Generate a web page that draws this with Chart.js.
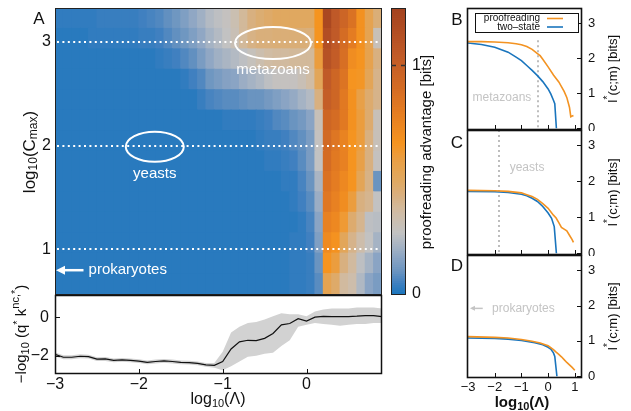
<!DOCTYPE html>
<html><head><meta charset="utf-8">
<script src="https://cdn.jsdelivr.net/npm/chart.js@4.4.0/dist/chart.umd.min.js"></script>
<style>
html,body{margin:0;padding:0;background:#fff;}
#wrap{position:relative;width:631px;height:411px;overflow:hidden;background:#fff;}
canvas{position:absolute;}
</style></head><body>
<div id="wrap">
<canvas id="heat" width="392" height="300" style="left:0;top:0"></canvas>
<canvas id="cbar" width="56" height="300" style="left:384px;top:0"></canvas>
<canvas id="qline" width="392" height="141" style="left:0;top:270px"></canvas>
<canvas id="pB" width="191" height="131" style="left:440px;top:0"></canvas>
<canvas id="pC" width="191" height="126" style="left:440px;top:130px"></canvas>
<canvas id="pD" width="191" height="156" style="left:440px;top:255px"></canvas>
</div>
<script>
// ---------------- DATA ----------------
// heatmap columns: centres of log10(Lambda) bins
const lambdaCols = [-2.95,-2.85,-2.75,-2.65,-2.55,-2.45,-2.35,-2.25,-2.15,-2.05,
  -1.95,-1.85,-1.75,-1.65,-1.55,-1.45,-1.35,-1.25,-1.15,-1.05,
  -0.95,-0.85,-0.75,-0.65,-0.55,-0.45,-0.35,-0.25,-0.15,-0.05,
  0.05,0.15,0.25,0.35,0.45,0.55,0.65,0.75,0.85];
// heatmap rows: centres of log10(Cmax) bins (bottom to top)
const cmaxRows = [0.669,0.866,1.063,1.260,1.457,1.654,1.851,2.048,2.245,2.442,2.639,2.836,3.033,3.230];
// proofreading advantage [bits], one row per cmaxRows entry
const heatValues = [
 [0.02,0.02,0.02,0.02,0.02,0.02,0.02,0.02,0.02,0.02, 0.02,0.02,0.02,0.02,0.02,0.02,0.02,0.02,0.02,0.02, 0.02,0.02,0.02,0.02,0.02,0.02,0.02,0.02,0.03,0.03, 0.04,0.08,0.55,0.48,0.37,0.34,0.23,0.16,0.13],
 [0.02,0.02,0.02,0.02,0.02,0.02,0.02,0.02,0.02,0.02, 0.02,0.02,0.02,0.02,0.02,0.02,0.02,0.02,0.02,0.02, 0.02,0.02,0.02,0.02,0.02,0.02,0.02,0.02,0.03,0.03, 0.04,0.10,0.66,0.60,0.43,0.37,0.26,0.21,0.16],
 [0.02,0.02,0.02,0.02,0.02,0.02,0.02,0.02,0.02,0.02, 0.02,0.02,0.02,0.02,0.02,0.02,0.02,0.02,0.02,0.02, 0.02,0.02,0.02,0.02,0.02,0.02,0.02,0.02,0.03,0.03, 0.05,0.14,0.72,0.67,0.52,0.41,0.34,0.27,0.21],
 [0.02,0.02,0.02,0.02,0.02,0.02,0.02,0.02,0.02,0.02, 0.02,0.02,0.02,0.02,0.02,0.02,0.02,0.02,0.02,0.02, 0.02,0.02,0.02,0.02,0.02,0.02,0.02,0.02,0.02,0.03, 0.06,0.16,0.77,0.73,0.62,0.47,0.40,0.26,0.25],
 [0.02,0.02,0.02,0.02,0.02,0.02,0.02,0.02,0.02,0.02, 0.02,0.02,0.02,0.02,0.02,0.02,0.02,0.02,0.02,0.02, 0.02,0.02,0.02,0.02,0.02,0.02,0.02,0.02,0.03,0.05, 0.08,0.19,0.83,0.77,0.70,0.60,0.43,0.40,0.27],
 [0.02,0.02,0.02,0.02,0.02,0.02,0.02,0.02,0.02,0.02, 0.02,0.02,0.02,0.02,0.02,0.02,0.02,0.02,0.02,0.02, 0.02,0.02,0.02,0.02,0.02,0.02,0.02,0.03,0.03,0.06, 0.10,0.22,0.86,0.80,0.73,0.66,0.53,0.42,0.10],
 [0.02,0.02,0.02,0.02,0.02,0.02,0.02,0.02,0.02,0.02, 0.02,0.02,0.02,0.02,0.02,0.02,0.02,0.02,0.02,0.02, 0.02,0.02,0.02,0.02,0.02,0.03,0.03,0.04,0.05,0.08, 0.13,0.27,0.90,0.82,0.77,0.66,0.58,0.43,0.28],
 [0.02,0.02,0.02,0.02,0.02,0.02,0.02,0.02,0.02,0.02, 0.02,0.02,0.02,0.02,0.02,0.02,0.02,0.02,0.02,0.02, 0.02,0.02,0.02,0.02,0.03,0.04,0.04,0.05,0.07,0.09, 0.13,0.28,0.92,0.84,0.76,0.66,0.60,0.43,0.30],
 [0.02,0.02,0.02,0.02,0.02,0.02,0.02,0.02,0.02,0.02, 0.02,0.02,0.02,0.02,0.02,0.02,0.02,0.02,0.02,0.02, 0.03,0.03,0.03,0.03,0.04,0.05,0.07,0.08,0.10,0.12, 0.16,0.30,0.95,0.90,0.82,0.68,0.60,0.47,0.30],
 [0.02,0.02,0.02,0.02,0.02,0.02,0.02,0.02,0.02,0.02, 0.02,0.02,0.02,0.02,0.02,0.02,0.02,0.04,0.06,0.07, 0.08,0.08,0.09,0.10,0.10,0.12,0.14,0.16,0.18,0.21, 0.24,0.43,1.02,0.95,0.82,0.68,0.58,0.47,0.41],
 [0.02,0.02,0.02,0.02,0.02,0.02,0.02,0.02,0.02,0.02, 0.02,0.02,0.02,0.02,0.02,0.03,0.05,0.07,0.11,0.13, 0.15,0.16,0.19,0.21,0.23,0.26,0.28,0.28,0.28,0.31, 0.36,0.52,1.05,0.95,0.85,0.66,0.65,0.53,0.41],
 [0.02,0.02,0.02,0.02,0.02,0.02,0.02,0.02,0.02,0.02, 0.02,0.02,0.03,0.04,0.05,0.07,0.09,0.13,0.17,0.20, 0.22,0.24,0.26,0.29,0.33,0.36,0.37,0.37,0.38,0.38, 0.38,0.60,1.12,1.03,0.88,0.70,0.66,0.56,0.43],
 [0.02,0.02,0.02,0.02,0.03,0.03,0.03,0.03,0.03,0.03, 0.04,0.04,0.05,0.07,0.09,0.11,0.14,0.17,0.21,0.24, 0.27,0.31,0.38,0.42,0.44,0.44,0.45,0.45,0.45,0.45, 0.44,0.66,1.15,1.05,0.90,0.80,0.68,0.55,0.30],
 [0.03,0.03,0.03,0.03,0.03,0.04,0.04,0.04,0.04,0.04, 0.05,0.06,0.07,0.09,0.11,0.14,0.17,0.20,0.24,0.26, 0.28,0.32,0.38,0.43,0.46,0.48,0.50,0.50,0.50,0.50, 0.50,0.66,1.20,1.06,0.96,0.86,0.68,0.55,0.45]
];
// bottom panel: -log10(q* k^nc,*) vs log10(Lambda)
const lambdaQ = [-3.0,-2.9,-2.8,-2.7,-2.6,-2.5,-2.4,-2.3,-2.2,-2.1,-2.0,-1.9,-1.8,-1.7,-1.6,-1.5,-1.4,-1.3,-1.2,-1.1,
  -1.0,-0.9,-0.8,-0.7,-0.6,-0.5,-0.4,-0.3,-0.2,-0.1,0.0,0.1,0.2,0.3,0.4,0.5,0.6,0.7,0.8,0.9];
const qMean  = [-1.93,-2.08,-2.08,-2.03,-2.05,-2.18,-2.17,-2.24,-2.22,-2.24,-2.28,-2.35,-2.30,-2.27,-2.30,-2.35,-2.36,-2.40,-2.48,-2.50,
  -2.30,-1.65,-1.28,-1.20,-1.22,-1.10,-0.85,-0.40,-0.33,-0.08,-0.20,0.00,0.04,0.03,0.03,0.03,0.05,0.08,0.08,0.03];
const qUpper = [-1.83,-1.98,-1.98,-1.93,-1.95,-2.08,-2.07,-2.14,-2.12,-2.14,-2.18,-2.25,-2.20,-2.17,-2.20,-2.25,-2.26,-2.30,-2.38,-2.38,
  -1.80,-0.80,-0.50,-0.30,-0.25,-0.12,0.05,0.20,0.15,0.15,0.05,0.30,0.40,0.45,0.45,0.45,0.50,0.50,0.50,0.45];
const qLower = [-2.03,-2.18,-2.18,-2.13,-2.15,-2.28,-2.27,-2.34,-2.32,-2.34,-2.38,-2.45,-2.40,-2.37,-2.40,-2.45,-2.46,-2.50,-2.58,-2.62,
  -2.75,-2.55,-2.30,-2.05,-2.00,-1.90,-1.85,-1.50,-1.20,-0.50,-0.40,-0.30,-0.35,-0.40,-0.45,-0.40,-0.35,-0.35,-0.30,-0.30];
// panels B, C, D: I*(c;m) [bits]
const bLamOrange = [-3,-2.5,-2,-1.5,-1.2,-1,-0.8,-0.6,-0.4,-0.3,-0.2,0,0.2,0.4,0.6,0.7,0.8,0.85,0.9,0.95];
const bOrange    = [2.47,2.47,2.46,2.44,2.41,2.38,2.33,2.25,2.13,2.07,1.97,1.75,1.52,1.32,1.05,0.88,0.60,0.33,0.35,0.36];
const bLamBlue   = [-3,-2.5,-2,-1.5,-1.2,-1,-0.8,-0.6,-0.4,-0.2,0,0.1,0.2,0.25,0.31];
const bBlue      = [2.43,2.39,2.31,2.17,2.03,1.93,1.79,1.65,1.50,1.33,1.12,0.98,0.80,0.70,0.0];
const cLamOrange = [-3,-2,-1.5,-1,-0.8,-0.6,-0.4,-0.2,0,0.2,0.3,0.4,0.5,0.6,0.7,0.8,0.9,0.95];
const cOrange    = [1.75,1.74,1.72,1.68,1.63,1.58,1.50,1.38,1.25,1.06,0.98,0.85,0.72,0.67,0.62,0.50,0.38,0.30];
const cLamBlue   = [-3,-2,-1.5,-1,-0.8,-0.6,-0.4,-0.2,0,0.13,0.23,0.31];
const cBlue      = [1.72,1.71,1.69,1.64,1.60,1.53,1.44,1.30,1.12,0.97,0.74,0.0];
const dLamOrange = [-3,-2,-1.5,-1,-0.6,-0.3,0,0.2,0.3,0.4,0.5,0.6,0.7,0.8,0.9,1.0];
const dOrange    = [1.12,1.10,1.08,1.04,0.99,0.94,0.86,0.75,0.68,0.62,0.55,0.47,0.39,0.32,0.25,0.17];
const dLamBlue   = [-3,-2,-1.5,-1,-0.5,-0.2,0,0.1,0.2,0.25,0.33];
const dBlue      = [1.08,1.07,1.05,1.01,0.95,0.89,0.82,0.77,0.66,0.56,0.0];
// tick labels
const heatYTicks = [1,2,3];
const qXTicks = [-3,-2,-1,0];
const qYTicks = [-2,0];
const cbTicks = [0,1];
const panelYTicks = [0,1,2,3];
const panelXTicks = [-3,-2,-1,0,1];

// ---------------- STYLE ----------------
const FONT = "'Liberation Sans', Arial, Helvetica, sans-serif";
Chart.defaults.font.family = FONT;
Chart.defaults.color = '#111';
const ORANGE = '#f39322', BLUE = '#1a75bd';
const cmapStops = [
 [0.00,[26,118,189]],[0.05,[64,128,192]],[0.10,[106,148,192]],[0.16,[138,164,196]],
 [0.20,[160,176,196]],[0.27,[194,194,194]],[0.36,[208,188,164]],[0.43,[216,176,128]],
 [0.50,[224,168,96]],[0.58,[232,160,72]],[0.66,[245,148,32]],[0.80,[228,124,34]],
 [0.90,[212,108,36]],[1.05,[192,90,40]],[1.25,[163,66,31]]];
function cmap(v){
  if (v <= cmapStops[0][0]) return 'rgb('+cmapStops[0][1].join(',')+')';
  for (let i=1;i<cmapStops.length;i++){
    if (v <= cmapStops[i][0]){
      const [a,ca]=cmapStops[i-1],[b,cb]=cmapStops[i]; const t=(v-a)/(b-a);
      return 'rgb('+ca.map((c,k)=>Math.round(c+(cb[k]-c)*t)).join(',')+')';
    }
  }
  return 'rgb('+cmapStops[cmapStops.length-1][1].join(',')+')';
}
function fmt(v){ return v < 0 ? '\u2212' + Math.abs(v) : String(v); }
function rich(ctx, parts, x, y, rot, color, align){
  ctx.save(); ctx.translate(x,y); if (rot) ctx.rotate(rot);
  ctx.fillStyle = color || '#111'; ctx.textAlign='left'; ctx.textBaseline='middle';
  const f = p => (p.w||'')+' '+p.s+'px '+FONT;
  let tot=0; parts.forEach(p=>{ctx.font=f(p); p._w=ctx.measureText(p.t).width; tot+=p._w;});
  let cx = align==='left' ? 0 : -tot/2;
  parts.forEach(p=>{ctx.font=f(p); ctx.fillText(p.t,cx,p.dy||0); cx+=p._w;});
  ctx.restore();
}
const base = {responsive:false, animation:false, devicePixelRatio:1,
  plugins:{legend:{display:false}, tooltip:{enabled:false}}};
const fixTicks = arr => (s => { s.ticks = arr.map(v=>({value:v})); });
// fixed axis size and no automatic label overflow padding
const fitW = w => (s => { s.width = w; s.paddingTop = 0; s.paddingBottom = 0; s.paddingLeft = 0; s.paddingRight = 0; });
const fitH = h => (s => { if (s.options.display) s.height = h; s.paddingTop = 0; s.paddingBottom = 0; s.paddingLeft = 0; s.paddingRight = 0; });
const noGrid = {display:false, drawTicks:false};

// ---------------- HEATMAP ----------------
const halfRow = 0.0985;
const heatDecor = {id:'heatDecor', afterDraw(chart){
  const {ctx, chartArea:a, scales:{x,y}} = chart;
  ctx.save();
  ctx.strokeStyle='#fff'; ctx.lineWidth=2; ctx.setLineDash([2,3.4]);
  heatYTicks.forEach(v=>{const py=Math.round(y.getPixelForValue(v)); ctx.beginPath(); ctx.moveTo(a.left+2,py); ctx.lineTo(a.right,py); ctx.stroke();});
  ctx.setLineDash([]);
  ctx.lineWidth=2;
  const ell=(lx,ly,rx,ry)=>{ctx.beginPath(); ctx.ellipse(x.getPixelForValue(lx), y.getPixelForValue(ly), rx, ry, 0, 0, Math.PI*2); ctx.stroke();};
  ell(-0.4, 2.99, 38, 16);
  ell(-1.81, 1.99, 29, 15);
  ctx.fillStyle='#fff'; ctx.font='15px '+FONT; ctx.textAlign='center'; ctx.textBaseline='middle';
  ctx.fillText('metazoans', x.getPixelForValue(-0.4), y.getPixelForValue(2.73));
  ctx.fillText('yeasts', x.getPixelForValue(-1.81), y.getPixelForValue(1.73));
  const ay = y.getPixelForValue(0.80);
  ctx.lineWidth=2.5; ctx.beginPath(); ctx.moveTo(x.getPixelForValue(-2.66), ay); ctx.lineTo(a.left+8, ay); ctx.stroke();
  ctx.beginPath(); ctx.moveTo(a.left+1, ay); ctx.lineTo(a.left+10, ay-4.5); ctx.lineTo(a.left+10, ay+4.5); ctx.closePath(); ctx.fill();
  ctx.textAlign='left'; ctx.fillText('prokaryotes', x.getPixelForValue(-2.6), ay);
  ctx.strokeStyle='#222'; ctx.lineWidth=1; ctx.strokeRect(a.left+0.5, a.top+0.5, a.right-a.left-1, a.bottom-a.top);
  ctx.fillStyle='#111'; ctx.font='17px '+FONT; ctx.textAlign='center'; ctx.fillText('A', 39, 19);
  ctx.restore();
  rich(ctx,[{t:'log',s:17},{t:'10',s:12,dy:4},{t:'(C',s:17},{t:'max',s:12,dy:4},{t:')',s:17}], 30, 152, -Math.PI/2);
}};
new Chart(document.getElementById('heat'), {
  type:'bar',
  data:{datasets: heatValues.map((row,r)=>({
    data: row.map((v,c)=>({x:lambdaCols[c], y:[cmaxRows[r]-halfRow, cmaxRows[r]+halfRow]})),
    backgroundColor: row.map(v=>cmap(v)), borderWidth:0, grouped:false,
    barPercentage:1, categoryPercentage:1, inflateAmount:0.5}))},
  options:{...base, layout:{padding:{left:0,top:8,right:10,bottom:6}},
    scales:{
      x:{type:'linear', min:-3, max:0.9, offset:false, display:false, afterFit:fitH(0)},
      y:{type:'linear', min:cmaxRows[0]-halfRow, max:cmaxRows[13]+halfRow, afterFit:fitW(55),
         afterBuildTicks:fixTicks(heatYTicks), grid:noGrid, border:{display:false},
         ticks:{padding:4, color:'#111', font:{size:16}, callback:v=>fmt(v)}}
    }},
  plugins:[heatDecor]
});

// ---------------- COLORBAR ----------------
const cbSeg=[]; for(let k=0;k<125;k++) cbSeg.push(k*0.01);
const cbDecor = {id:'cbDecor', afterDraw(chart){
  const {ctx, chartArea:a, scales:{y}} = chart;
  ctx.save();
  ctx.strokeStyle='#222'; ctx.lineWidth=1; ctx.strokeRect(a.left+0.5,a.top+0.5,a.right-a.left-1,a.bottom-a.top);
  const py=Math.round(y.getPixelForValue(1))+0.5;
  ctx.strokeStyle='#333'; ctx.lineWidth=1.3;
  ctx.beginPath(); ctx.moveTo(a.left,py); ctx.lineTo(a.left+5,py); ctx.moveTo(a.right-5,py); ctx.lineTo(a.right,py); ctx.stroke();
  ctx.restore();
  rich(ctx,[{t:'proofreading advantage [bits]',s:15}], 43, 152, -Math.PI/2);
}};
new Chart(document.getElementById('cbar'), {
  type:'bar',
  data:{labels:['cb'], datasets:[{data: cbSeg.map(v=>({x:'cb', y:[v, v+0.01]})),
    backgroundColor: cbSeg.map(v=>cmap(v+0.005)), borderWidth:0, grouped:false,
    barPercentage:1, categoryPercentage:1, inflateAmount:0.5}]},
  options:{...base, layout:{padding:{left:7,top:8,right:0,bottom:6}},
    scales:{
      x:{type:'category', display:false, offset:true, afterFit:fitH(0)},
      y:{position:'right', min:0, max:1.25, afterFit:fitW(34), afterBuildTicks:fixTicks(cbTicks),
         ticks:{padding:6, font:{size:16}, color:'#111'}, grid:noGrid, border:{display:false}}
    }},
  plugins:[cbDecor]
});

// ---------------- BOTTOM LINE PANEL ----------------
const qDecor = {id:'qDecor', afterDraw(chart){
  const {ctx, chartArea:a, scales:{x,y}} = chart;
  ctx.save();
  ctx.strokeStyle='#111'; ctx.lineWidth=1.5;
  ctx.strokeRect(a.left+0.5,a.top+0.5,a.right-a.left-1,a.bottom-a.top-1);
  ctx.lineWidth=1;
  ctx.beginPath();
  qXTicks.slice(1).forEach(v=>{const px=Math.round(x.getPixelForValue(v))+0.5; ctx.moveTo(px,a.bottom); ctx.lineTo(px,a.bottom-5);});
  qYTicks.forEach(v=>{const py=Math.round(y.getPixelForValue(v))+0.5; ctx.moveTo(a.left,py); ctx.lineTo(a.left+5,py);});
  ctx.stroke();
  ctx.restore();
  rich(ctx,[{t:'log',s:16},{t:'10',s:11,dy:4},{t:'(\u039B)',s:16}], 218, 130, 0);
  rich(ctx,[{t:'\u2212log',s:15},{t:'10',s:11,dy:4},{t:' (q',s:15},{t:'*',s:11,dy:-4},{t:' k',s:15},{t:'nc,*',s:11,dy:-6},{t:')',s:15}], 22, 64, -Math.PI/2);
}};
new Chart(document.getElementById('qline'), {
  type:'line',
  data:{datasets:[
    {data: lambdaQ.map((v,i)=>({x:v, y:qMean[i]})), borderColor:'#111', borderWidth:1.2, pointRadius:0, fill:false, tension:0},
    {data: lambdaQ.map((v,i)=>({x:v, y:qUpper[i]})), borderColor:'rgba(0,0,0,0)', borderWidth:1, pointRadius:0, fill:'+1', backgroundColor:'#d2d2d2', tension:0},
    {data: lambdaQ.map((v,i)=>({x:v, y:qLower[i]})), borderColor:'rgba(0,0,0,0)', borderWidth:1, pointRadius:0, fill:false, tension:0}
  ]},
  options:{...base, layout:{padding:{left:0,top:25,right:10,bottom:0}},
    scales:{
      x:{type:'linear', min:-3, max:0.9, afterFit:fitH(37), afterBuildTicks:fixTicks(qXTicks),
         ticks:{padding:1, font:{size:16}, color:'#111', callback:v=>fmt(v), autoSkip:false, maxRotation:0},
         grid:noGrid, border:{display:false}},
      y:{type:'linear', min:-2.95, max:1.15, afterFit:fitW(55), afterBuildTicks:fixTicks(qYTicks),
         ticks:{padding:6, font:{size:16}, color:'#111', callback:v=>fmt(v)}, grid:noGrid, border:{display:false}}
    }},
  plugins:[qDecor]
});

// ---------------- PANELS B, C, D ----------------
function panel(id, d){
  const decor = {id:'pd'+d.letter,
    beforeDatasetsDraw(chart){
      const {ctx, chartArea:a, scales:{x,y}} = chart;
      ctx.save();
      if (d.vline){
        ctx.strokeStyle='#bdbdbd'; ctx.lineWidth=2; ctx.setLineDash([2,3]);
        const px=Math.round(x.getPixelForValue(d.vline[0]));
        ctx.beginPath(); ctx.moveTo(px, d.vline[1]===null ? a.top : y.getPixelForValue(d.vline[1])); ctx.lineTo(px,a.bottom); ctx.stroke();
        ctx.setLineDash([]);
      }
      ctx.fillStyle='#c4c4c4'; ctx.font='12px '+FONT; ctx.textBaseline='middle';
      if (d.label){ ctx.textAlign=d.label[3]; ctx.fillText(d.label[0], x.getPixelForValue(d.label[1]), y.getPixelForValue(d.label[2])); }
      if (d.arrow){
        const ay=y.getPixelForValue(d.arrow[2]), x0=x.getPixelForValue(d.arrow[0]), x1=x.getPixelForValue(d.arrow[1]);
        ctx.strokeStyle='#c4c4c4'; ctx.lineWidth=1.5; ctx.beginPath(); ctx.moveTo(x0,ay); ctx.lineTo(x1+4,ay); ctx.stroke();
        ctx.beginPath(); ctx.moveTo(x1,ay); ctx.lineTo(x1+5,ay-2.5); ctx.lineTo(x1+5,ay+2.5); ctx.closePath(); ctx.fill();
      }
      ctx.restore();
    },
    afterDraw(chart){
      const {ctx, chartArea:a, scales:{x,y}} = chart;
      ctx.save();
      ctx.strokeStyle='#111'; ctx.lineWidth=1.6;
      ctx.strokeRect(a.left+0.5,a.top+0.5,a.right-a.left-1,a.bottom-a.top-1);
      ctx.lineWidth=1; ctx.beginPath();
      panelYTicks.forEach(v=>{const py=Math.round(y.getPixelForValue(v))+0.5; ctx.moveTo(a.right,py); ctx.lineTo(a.right-5,py);});
      panelXTicks.slice(1).forEach(v=>{const px=Math.round(x.getPixelForValue(v))+0.5; ctx.moveTo(px,a.bottom); ctx.lineTo(px,a.bottom-5);});
      ctx.stroke();
      if (d.legend){
        ctx.fillStyle='#fff'; ctx.fillRect(35,13,103,19);
        ctx.strokeStyle='#111'; ctx.lineWidth=1; ctx.strokeRect(35.5,13.5,103,19);
        ctx.fillStyle='#111'; ctx.font='10px '+FONT; ctx.textAlign='right'; ctx.textBaseline='middle';
        ctx.fillText('proofreading',100,18.5); ctx.fillText('two\u2013state',100,27);
        ctx.lineWidth=1.6;
        ctx.strokeStyle=ORANGE; ctx.beginPath(); ctx.moveTo(107,18.5); ctx.lineTo(123,18.5); ctx.stroke();
        ctx.strokeStyle=BLUE; ctx.beginPath(); ctx.moveTo(107,27); ctx.lineTo(123,27); ctx.stroke();
      }
      ctx.fillStyle='#111'; ctx.font='17px '+FONT; ctx.textAlign='center'; ctx.textBaseline='middle';
      ctx.fillText(d.letter, 17, d.letterY);
      if (d.xtitle) rich(ctx,[{t:'log',s:15,w:'bold'},{t:'10',s:11,dy:4,w:'bold'},{t:'(\u039B)',s:15,w:'bold'}], 82, 148, 0);
      ctx.restore();
      rich(ctx,[{t:'I',s:13},{t:'*',s:10,dy:-5},{t:'(c;m) [bits]',s:13}], 173, (a.top+a.bottom)/2, -Math.PI/2);
    }};
  new Chart(document.getElementById(id), {
    type:'line',
    data:{datasets:[
      {data:d.o[0].map((v,i)=>({x:v,y:d.o[1][i]})), borderColor:ORANGE, borderWidth:1.6, pointRadius:0, fill:false, tension:0},
      {data:d.b[0].map((v,i)=>({x:v,y:d.b[1][i]})), borderColor:BLUE, borderWidth:1.6, pointRadius:0, fill:false, tension:0}
    ]},
    options:{...base, layout:{padding:{left:27, top:d.padTop, right:0, bottom:d.padBottom}},
      scales:{
        x:{type:'linear', min:-3.04, max:1.27, display:!!d.xtitle, afterFit:fitH(33), afterBuildTicks:fixTicks(panelXTicks),
           ticks:{padding:2, font:{size:13}, color:'#111', callback:v=>fmt(v), autoSkip:false, maxRotation:0},
           grid:noGrid, border:{display:false}},
        y:{type:'linear', position:'right', min:-0.05, max:3.43, afterFit:fitW(49), afterBuildTicks:fixTicks(panelYTicks),
           ticks:{padding:6, font:{size:13}, color:'#111'}, grid:noGrid, border:{display:false}}
      }},
    plugins:[decor]
  });
}
panel('pB', {letter:'B', letterY:20, padTop:8, padBottom:1, legend:true,
  o:[bLamOrange,bOrange], b:[bLamBlue,bBlue], vline:[-0.37, 2.51], label:['metazoans',-1.73,0.86,'center']});
panel('pC', {letter:'C', letterY:13, padTop:0, padBottom:1,
  o:[cLamOrange,cOrange], b:[cLamBlue,cBlue], vline:[-1.83, null], label:['yeasts',-0.79,2.38,'center']});
panel('pD', {letter:'D', letterY:11, padTop:0, padBottom:0, xtitle:true,
  o:[dLamOrange,dOrange], b:[dLamBlue,dBlue], arrow:[-2.45,-2.93,1.92], label:['prokaryotes',-2.1,1.92,'left']});
</script>
</body></html>
